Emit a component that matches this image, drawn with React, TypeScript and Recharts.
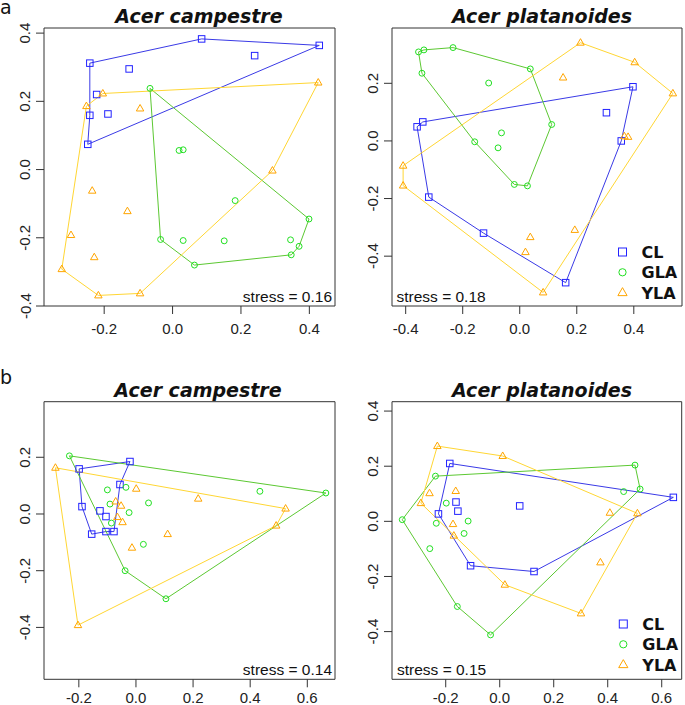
import { ScatterChart, Scatter, XAxis, YAxis, ReferenceArea } from 'recharts';

// NMDS scores, [NMDS1, NMDS2]
// a) Acer campestre
const aCampCL = [[0.085, 0.383], [0.429, 0.364], [0.24, 0.334], [-0.242, 0.312], [-0.127, 0.295], [-0.222, 0.22], [-0.242, 0.159], [-0.189, 0.163], [-0.248, 0.074]];
const aCampCLHull = [3, 0, 1, 8, 6];
const aCampGLA = [[-0.066, 0.238], [0.019, 0.056], [0.031, 0.058], [0.183, -0.091], [0.399, -0.145], [-0.035, -0.205], [0.031, -0.208], [0.151, -0.209], [0.345, -0.206], [0.37, -0.225], [0.347, -0.25], [0.064, -0.28]];
const aCampGLAHull = [0, 4, 9, 10, 11, 5];
const aCampYLA = [[0.426, 0.255], [-0.204, 0.223], [-0.252, 0.186], [-0.095, 0.179], [0.292, -0.003], [-0.235, -0.062], [-0.132, -0.122], [-0.297, -0.192], [-0.229, -0.257], [-0.324, -0.292], [-0.217, -0.369], [-0.095, -0.363]];
const aCampYLAHull = [1, 0, 4, 11, 10, 9, 2];

// a) Acer platanoides
const aPlatCL = [[0.397, 0.188], [0.304, 0.098], [-0.34, 0.066], [-0.36, 0.049], [0.356, 0.0], [-0.319, -0.195], [-0.127, -0.32], [0.161, -0.492]];
const aPlatCLHull = [2, 0, 4, 7, 6, 5, 3];
const aPlatGLA = [[-0.355, 0.309], [-0.336, 0.316], [-0.234, 0.324], [0.037, 0.25], [-0.343, 0.235], [-0.109, 0.201], [0.112, 0.057], [-0.064, 0.028], [-0.158, -0.003], [-0.076, -0.024], [-0.019, -0.151], [0.027, -0.156]];
const aPlatGLAHull = [0, 1, 2, 3, 6, 11, 10, 8, 4];
const aPlatYLA = [[0.213, 0.341], [0.403, 0.273], [0.152, 0.22], [0.537, 0.165], [0.38, 0.014], [0.367, 0.016], [-0.409, -0.086], [-0.409, -0.155], [0.193, -0.309], [0.037, -0.334], [0.02, -0.386], [0.082, -0.526]];
const aPlatYLAHull = [6, 0, 1, 3, 11, 7];

// b) Acer campestre
const bCampCL = [[-0.021, 0.185], [-0.199, 0.159], [-0.056, 0.104], [-0.189, 0.026], [-0.126, 0.011], [-0.105, -0.009], [-0.105, -0.062], [-0.077, -0.062], [-0.155, -0.071]];
const bCampCLHull = [1, 0, 2, 7, 6, 8, 3];
const bCampGLA = [[-0.233, 0.205], [0.665, 0.074], [0.434, 0.08], [-0.1, 0.085], [-0.035, 0.094], [-0.091, 0.035], [0.044, 0.039], [-0.024, 0.005], [-0.086, -0.032], [0.026, -0.107], [-0.038, -0.2], [0.105, -0.299]];
const bCampGLAHull = [0, 1, 11, 10];
const bCampYLA = [[-0.282, 0.163], [0.001, 0.089], [0.218, 0.054], [-0.071, 0.044], [-0.052, 0.029], [-0.065, -0.011], [-0.047, -0.029], [0.524, 0.019], [0.491, -0.041], [0.111, -0.071], [-0.014, -0.119], [-0.203, -0.392]];
const bCampYLAHull = [0, 7, 8, 11];

// b) Acer platanoides
const bPlatCL = [[-0.185, 0.21], [0.643, 0.087], [-0.162, 0.07], [-0.155, 0.037], [0.074, 0.056], [-0.227, 0.027], [-0.108, -0.161], [0.127, -0.182]];
const bPlatCLHull = [0, 1, 7, 6, 5];
const bPlatGLA = [[0.501, 0.204], [-0.238, 0.164], [0.52, 0.117], [0.459, 0.108], [-0.198, 0.066], [-0.361, 0.006], [-0.235, -0.007], [-0.117, 0.001], [-0.132, -0.044], [-0.259, -0.099], [-0.157, -0.309], [-0.034, -0.412]];
const bPlatGLAHull = [1, 0, 2, 11, 10, 5];
const bPlatYLA = [[-0.231, 0.273], [0.011, 0.237], [-0.26, 0.102], [-0.163, 0.11], [-0.292, 0.066], [0.408, 0.031], [0.51, 0.029], [-0.173, -0.01], [-0.17, -0.052], [0.373, -0.149], [0.019, -0.23], [0.301, -0.334]];
const bPlatYLAHull = [0, 1, 6, 11, 10, 4];

const groupNames = ['CL', 'GLA', 'YLA'];

const BLUE = '#2222ff';
const GREEN = '#22e022';
const ORANGE = '#ffa500';
const HULL = ['#3a3ae6', '#5cc832', '#ffd633'];
const MARK = [BLUE, GREEN, ORANGE];
const TICK_FONT = '"Liberation Sans", Arial, sans-serif';

const drawMark = (kind: number, cx: number, cy: number, s: number, color: string) => {
  if (kind === 0) {
    return <rect x={cx - s / 2} y={cy - s / 2} width={s} height={s} fill="none" stroke={color} strokeWidth={1} />;
  }
  if (kind === 1) {
    return <circle cx={cx} cy={cy} r={s / 2.2} fill="none" stroke={color} strokeWidth={1} />;
  }
  const w = s * 1.15;
  const h = s;
  return (
    <polygon
      points={`${cx},${cy - h * 0.62} ${cx - w / 2},${cy + h * 0.38} ${cx + w / 2},${cy + h * 0.38}`}
      fill="none"
      stroke={color}
      strokeWidth={1}
    />
  );
};

const toPts = (arr: number[][]) => arr.map(([x, y]) => ({ x, y }));
const toHull = (arr: number[][], idx: number[]) => [...idx, idx[0]].map((i) => ({ x: arr[i][0], y: arr[i][1] }));

type PanelProps = {
  left: number;
  top: number;
  width: number;
  height: number;
  margin: { top: number; right: number; bottom: number; left: number };
  xDomain: number[];
  yDomain: number[];
  xTicks: number[];
  yTicks: number[];
  labelGap: number;
  groups: number[][][];
  hulls: number[][];
};

const Panel = ({ left, top, width, height, margin, xDomain, yDomain, xTicks, yTicks, labelGap, groups, hulls }: PanelProps) => {
  const boxLeft = margin.left + 40;
  const boxBottom = height - margin.bottom - 20;
  const XTick = (p: any) => (
    <text x={p.x} y={boxBottom + labelGap} textAnchor="middle" dominantBaseline="central" fontSize={15} fontFamily={TICK_FONT} fill="#222">
      {p.payload.value.toFixed(1)}
    </text>
  );
  const YTick = (p: any) => {
    const lx = boxLeft - 19;
    return (
      <text x={lx} y={p.y} transform={`rotate(-90 ${lx} ${p.y})`} textAnchor="middle" dominantBaseline="central" fontSize={15} fontFamily={TICK_FONT} fill="#222">
        {p.payload.value.toFixed(1)}
      </text>
    );
  };
  return (
    <div style={{ position: 'absolute', left, top }}>
      <ScatterChart width={width} height={height} margin={margin}>
        <XAxis
          type="number"
          dataKey="x"
          domain={xDomain}
          ticks={xTicks}
          allowDataOverflow
          interval={0}
          height={20}
          axisLine={false}
          tickSize={8}
          tickLine={{ stroke: '#333' }}
          tick={XTick}
        />
        <YAxis
          type="number"
          dataKey="y"
          domain={yDomain}
          ticks={yTicks}
          allowDataOverflow
          interval={0}
          width={40}
          axisLine={false}
          tickSize={8}
          tickLine={{ stroke: '#333' }}
          tick={YTick}
        />
        <ReferenceArea x1={xDomain[0]} x2={xDomain[1]} y1={yDomain[0]} y2={yDomain[1]} fill="none" fillOpacity={0} stroke="#333" strokeWidth={1} ifOverflow="visible" />
        {groups.map((g, k) => (
          <Scatter
            key={`h${k}`}
            name={`${groupNames[k]} hull`}
            data={toHull(g, hulls[k])}
            line={{ stroke: HULL[k], strokeWidth: 1 }}
            lineType="joint"
            shape={() => <g />}
            isAnimationActive={false}
          />
        ))}
        {groups.map((g, k) => (
          <Scatter
            key={`p${k}`}
            name={groupNames[k]}
            data={toPts(g)}
            shape={(p: any) => drawMark(k, p.cx, p.cy, 6.5, MARK[k])}
            isAnimationActive={false}
          />
        ))}
      </ScatterChart>
    </div>
  );
};

const Legend = ({ x, y }: { x: number; y: number }) => (
  <g>
    {groupNames.map((n, k) => (
      <g key={n}>
        {drawMark(k, x, y + k * 20.3, 8, MARK[k])}
        <text x={x + 19} y={y + k * 20.3 + 6} fontSize={16} fontWeight="bold" fontFamily='"DejaVu Sans", sans-serif' fill="#111">
          {n}
        </text>
      </g>
    ))}
  </g>
);

const TITLE_STYLE = { fontSize: 19, fontWeight: 'bold', fontStyle: 'italic', fontFamily: '"DejaVu Sans", sans-serif', fill: '#111' } as const;
const STRESS_STYLE = { fontSize: 15.5, fontFamily: TICK_FONT, fill: '#111' } as const;

export default function App() {
  return (
    <div style={{ position: 'absolute', left: 0, top: 0, width: 685, height: 705, background: '#fff', overflow: 'hidden' }}>
      <Panel
        left={0}
        top={0}
        width={342}
        height={345}
        margin={{ top: 28, right: 7, bottom: 19, left: 4 }}
        xDomain={[-0.376, 0.475]}
        yDomain={[-0.4, 0.415]}
        xTicks={[-0.2, 0, 0.2, 0.4]}
        yTicks={[-0.4, -0.2, 0, 0.2, 0.4]}
        labelGap={22}
        groups={[aCampCL, aCampGLA, aCampYLA]}
        hulls={[aCampCLHull, aCampGLAHull, aCampYLAHull]}
      />
      <Panel
        left={342}
        top={0}
        width={343}
        height={345}
        margin={{ top: 28, right: 3, bottom: 19, left: 10 }}
        xDomain={[-0.448, 0.569]}
        yDomain={[-0.573, 0.392]}
        xTicks={[-0.4, -0.2, 0, 0.2, 0.4]}
        yTicks={[-0.4, -0.2, 0, 0.2]}
        labelGap={22}
        groups={[aPlatCL, aPlatGLA, aPlatYLA]}
        hulls={[aPlatCLHull, aPlatGLAHull, aPlatYLAHull]}
      />
      <Panel
        left={0}
        top={360}
        width={342}
        height={345}
        margin={{ top: 41.7, right: 7, bottom: 5.7, left: 4 }}
        xDomain={[-0.322, 0.697]}
        yDomain={[-0.583, 0.396]}
        xTicks={[-0.2, 0, 0.2, 0.4, 0.6]}
        yTicks={[-0.4, -0.2, 0, 0.2]}
        labelGap={18}
        groups={[bCampCL, bCampGLA, bCampYLA]}
        hulls={[bCampCLHull, bCampGLAHull, bCampYLAHull]}
      />
      <Panel
        left={342}
        top={360}
        width={343}
        height={345}
        margin={{ top: 41.7, right: 3.3, bottom: 5.7, left: 10 }}
        xDomain={[-0.399, 0.674]}
        yDomain={[-0.573, 0.434]}
        xTicks={[-0.2, 0, 0.2, 0.4, 0.6]}
        yTicks={[-0.4, -0.2, 0, 0.2, 0.4]}
        labelGap={18}
        groups={[bPlatCL, bPlatGLA, bPlatYLA]}
        hulls={[bPlatCLHull, bPlatGLAHull, bPlatYLAHull]}
      />
      <svg width={685} height={705} style={{ position: 'absolute', left: 0, top: 0, pointerEvents: 'none' }}>
        <text x={0} y={13.5} fontSize={19} fontFamily='"DejaVu Sans", sans-serif' fill="#111">a</text>
        <text x={0} y={383.5} fontSize={19} fontFamily='"DejaVu Sans", sans-serif' fill="#111">b</text>
        <text x={199} y={23} textAnchor="middle" style={TITLE_STYLE}>Acer campestre</text>
        <text x={542} y={23} textAnchor="middle" style={TITLE_STYLE}>Acer platanoides</text>
        <text x={198} y={397} textAnchor="middle" style={TITLE_STYLE}>Acer campestre</text>
        <text x={542} y={397} textAnchor="middle" style={TITLE_STYLE}>Acer platanoides</text>
        <text x={332} y={301.5} textAnchor="end" style={STRESS_STYLE}>stress = 0.16</text>
        <text x={396.5} y={301.5} style={STRESS_STYLE}>stress = 0.18</text>
        <text x={332} y={675} textAnchor="end" style={STRESS_STYLE}>stress = 0.14</text>
        <text x={397} y={675} style={STRESS_STYLE}>stress = 0.15</text>
        <Legend x={622.5} y={252} />
        <Legend x={623.3} y={624} />
      </svg>
    </div>
  );
}
